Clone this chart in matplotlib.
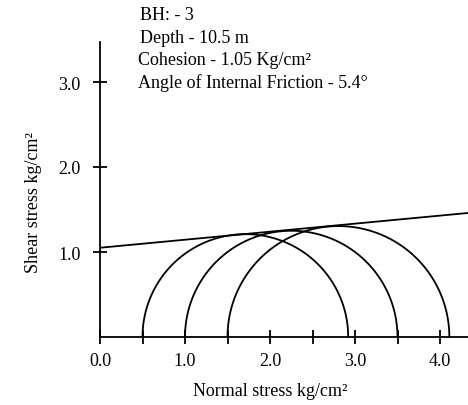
"""
Mohr circles - BH 3, depth 10.5 m
"""
import numpy as np
import matplotlib
matplotlib.use("Agg")
import matplotlib.pyplot as plt
from matplotlib.ticker import MultipleLocator, FixedLocator

plt.rcParams['font.family'] = ['Liberation Serif', 'DejaVu Serif']

# test data
sigma3 = [0.5, 1.0, 1.5]
sigma1 = [2.92, 3.5, 4.11]
cohesion = 1.05
phi_deg = 5.4
info_lines = [
    "BH: - 3",
    "Depth - 10.5 m",
    "Cohesion - 1.05 Kg/cm\u00b2",
    "Angle of Internal Friction - 5.4\u00b0",
]
x_ticks = [0.0, 1.0, 2.0, 3.0, 4.0]
y_ticks = [1.0, 2.0, 3.0]


def mohr_plot():
    fig = plt.figure(figsize=(4.68, 4.06), dpi=100)
    ax = fig.add_axes([100 / 468, 68 / 406, 368 / 468, 295 / 406])
    xmax = 368 / 85
    ymax = 295 / 85

    # semicircles
    theta = np.linspace(0, np.pi, 300)
    for s3, s1 in zip(sigma3, sigma1):
        c = (s1 + s3) / 2
        r = (s1 - s3) / 2
        ax.plot(c + r * np.cos(theta), r * np.sin(theta), color='black', lw=1.3)

    # failure envelope
    xs = np.array([0, xmax])
    ax.plot(xs, cohesion + xs * np.tan(np.radians(phi_deg)), color='black', lw=1.3)

    ax.set_xlim(0, xmax)
    ax.set_ylim(0, ymax)
    for side in ('top', 'right'):
        ax.spines[side].set_visible(False)
    for side in ('left', 'bottom'):
        ax.spines[side].set_linewidth(1.3)

    ax.xaxis.set_major_locator(FixedLocator(x_ticks))
    ax.xaxis.set_minor_locator(MultipleLocator(0.5))
    ax.set_xticklabels(["%.1f" % v for v in x_ticks])
    ax.yaxis.set_major_locator(FixedLocator(y_ticks))
    ax.set_yticklabels(["%.1f" % v for v in y_ticks])
    ax.tick_params(axis='both', which='both', direction='inout', length=10,
                   width=1.3, labelsize=13)
    ax.tick_params(axis='x', pad=6)
    ax.tick_params(axis='y', pad=9)

    for i, line in enumerate(info_lines):
        x = 140 if i < 2 else 138
        fig.text(x / 468, 1 - (20 + 22.7 * i) / 406, line, fontsize=13,
                 ha='left', va='baseline')

    fig.text(33 / 468, 1 - 203 / 406, "Shear stress kg/cm\u00b2", rotation=90,
             fontsize=13, ha='center', va='center')
    fig.text(270 / 468, 1 - 392 / 406, "Normal stress kg/cm\u00b2",
             fontsize=13, ha='center', va='center')

    fig.savefig("out.png", dpi=100)


if __name__ == '__main__':
    mohr_plot()
